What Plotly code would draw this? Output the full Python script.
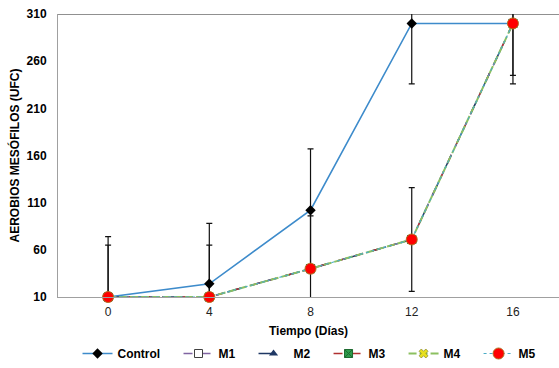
import plotly.graph_objects as go

dias = [0, 4, 8, 12, 16]
tick_labels = ["0", "4", "8", "12", "16"]
control = [10, 24, 102, 300, 300]
control_err = [64, 64, 65, 64, 64]
m1 = [10, 10, 40, 71, 300]
m2 = [10, 10, 40, 71, 300]
m3 = [10, 10, 40, 71, 300]
m4 = [10, 10, 40, 71, 300]
m5 = [10, 10, 40, 71, 300]
m_err = [55, 55, 56, 55, 55]
y_ticks = [10, 60, 110, 160, 210, 260, 310]

FONT = "Liberation Sans, Arial, sans-serif"
PAD = "\u00a0" * 4

fig = go.Figure()

# error bars (clipped to the plot area)
for vals, err in [(control, control_err), (m5, m_err)]:
    fig.add_trace(go.Scatter(
        x=dias, y=vals, mode="markers", showlegend=False, hoverinfo="skip",
        marker=dict(size=1, opacity=0),
        error_y=dict(type="data", array=err, visible=True, color="#111111",
                     thickness=1.2, width=3),
        cliponaxis=True,
    ))

series = [
    ("Control", control, dict(color="#3D8BCB", width=1.6, dash="solid"),
     dict(symbol="diamond", size=8, color="black", line=dict(width=0))),
    ("M1", m1, dict(color="#8064A2", width=1.5, dash="dash"),
     dict(symbol="square", size=8, color="white", line=dict(color="#404040", width=1))),
    ("M2", m2, dict(color="#1F3864", width=1.5, dash="longdash"),
     dict(symbol="triangle-up", size=8, color="#1F3864", line=dict(width=0))),
    ("M3", m3, dict(color="#B03030", width=1.5, dash="dash"),
     dict(symbol="square-x", size=8, color="#2E9A4A", line=dict(color="#1E6A30", width=1))),
    ("M4", m4, dict(color="#8CC060", width=2, dash="8px,3px"),
     dict(symbol="x", size=8, color="#E8E020", line=dict(color="#606000", width=0.5))),
    ("M5", m5, dict(color="#4BACC6", width=1.1, dash="dot"),
     dict(symbol="circle", size=11, color="#FF0000", line=dict(color="#B07020", width=1))),
]

for name, vals, ln, mk in series:
    fig.add_trace(go.Scatter(
        x=dias, y=vals, name=name + PAD, mode="lines+markers",
        line=ln, marker=mk, cliponaxis=False,
    ))

fig.add_shape(type="line", xref="paper", yref="y", x0=0, x1=1, y0=310, y1=310,
              line=dict(color="#222222", width=1.2))

fig.update_layout(
    width=559, height=368,
    margin=dict(l=58, r=0, t=14, b=70),
    paper_bgcolor="white", plot_bgcolor="white",
    font=dict(family=FONT, size=11, color="black"),
    showlegend=True,
    legend=dict(orientation="h", x=0.515, xanchor="center", y=-0.2, yanchor="middle",
                font=dict(family=FONT, size=12, color="black", weight="bold"),
                itemwidth=30, tracegroupgap=0),
    xaxis=dict(
        range=[-1.98, 17.82], tickvals=dias, ticktext=tick_labels, automargin=False,
        showgrid=False, zeroline=False, showline=True, linecolor="#A0A0A0", linewidth=1,
        ticks="", tickfont=dict(family=FONT, size=12, color="#222222"),
        ticklabelstandoff=4,
        title=dict(text="<b>Tiempo (Días)</b>", font=dict(family=FONT, size=12, color="black"),
                   standoff=8),
    ),
    yaxis=dict(
        range=[10, 310], tickvals=y_ticks, automargin=False,
        showgrid=False, zeroline=False, showline=True, linecolor="#A0A0A0", linewidth=1,
        ticks="", tickfont=dict(family=FONT, size=12, color="black", weight="bold"),
        ticklabelstandoff=8,
        title=dict(text="<b>AEROBIOS MESÓFILOS (UFC)</b>",
                   font=dict(family=FONT, size=12, color="black"), standoff=4),
    ),
)

fig.write_html(
    "out.html",
    config={"displayModeBar": False},
    post_script="document.body.style.margin='0';document.documentElement.style.overflow='hidden';document.body.style.overflow='hidden';",
)
